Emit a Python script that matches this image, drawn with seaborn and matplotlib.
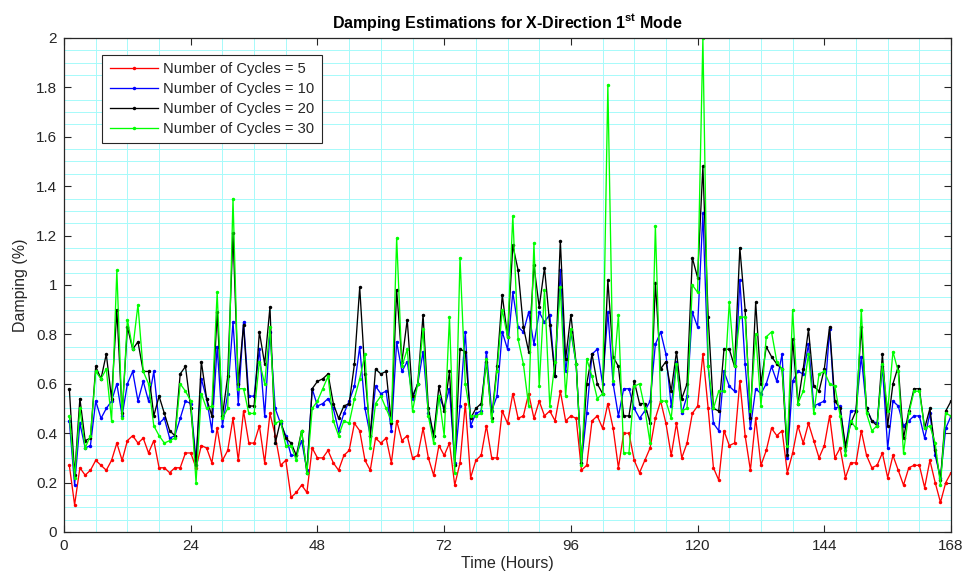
import numpy as np
import pandas as pd
import matplotlib
matplotlib.use("Agg")
import matplotlib.pyplot as plt
import seaborn as sns
from matplotlib.ticker import FixedLocator

hours = list(range(1, 169))

cycles_5 = [0.27,0.11,0.26,0.23,0.25,0.29,0.27,0.25,0.29,0.36,
            0.29,0.37,0.39,0.36,0.38,0.32,0.37,0.26,0.26,0.24,
            0.26,0.26,0.32,0.32,0.26,0.35,0.34,0.28,0.42,0.29,
            0.33,0.46,0.29,0.49,0.36,0.36,0.43,0.28,0.48,0.39,
            0.27,0.29,0.14,0.16,0.19,0.16,0.34,0.30,0.30,0.33,
            0.28,0.25,0.31,0.33,0.44,0.41,0.29,0.25,0.38,0.36,
            0.38,0.28,0.45,0.37,0.39,0.30,0.31,0.42,0.30,0.23,
            0.35,0.31,0.36,0.19,0.28,0.52,0.22,0.29,0.31,0.43,
            0.30,0.30,0.49,0.44,0.56,0.46,0.47,0.56,0.46,0.53,
            0.47,0.49,0.45,0.57,0.45,0.47,0.46,0.25,0.27,0.45,
            0.47,0.42,0.52,0.42,0.26,0.40,0.40,0.29,0.24,0.29,
            0.34,0.46,0.53,0.44,0.31,0.44,0.30,0.36,0.48,0.51,
            0.72,0.50,0.26,0.21,0.41,0.35,0.36,0.61,0.39,0.25,
            0.46,0.27,0.33,0.42,0.39,0.41,0.24,0.32,0.43,0.36,
            0.44,0.37,0.30,0.35,0.47,0.30,0.34,0.22,0.28,0.28,
            0.41,0.31,0.26,0.27,0.32,0.22,0.31,0.25,0.19,0.26,
            0.27,0.27,0.18,0.29,0.20,0.12,0.20,0.24]

cycles_10 = [0.45,0.19,0.44,0.34,0.35,0.53,0.46,0.50,0.53,0.60,
             0.47,0.60,0.65,0.53,0.61,0.53,0.65,0.44,0.46,0.38,
             0.39,0.46,0.53,0.52,0.29,0.62,0.54,0.41,0.75,0.43,
             0.56,0.85,0.52,0.85,0.55,0.55,0.74,0.47,0.81,0.50,
             0.44,0.39,0.31,0.31,0.37,0.25,0.58,0.51,0.52,0.54,
             0.50,0.41,0.48,0.53,0.59,0.75,0.50,0.39,0.59,0.56,
             0.57,0.41,0.77,0.65,0.69,0.54,0.60,0.73,0.48,0.39,
             0.55,0.50,0.58,0.28,0.51,0.81,0.43,0.48,0.49,0.73,
             0.49,0.55,0.81,0.74,0.97,0.83,0.81,0.89,0.76,0.89,
             0.85,0.88,0.63,1.06,0.65,0.81,0.68,0.28,0.48,0.72,
             0.74,0.60,0.89,0.60,0.47,0.58,0.58,0.50,0.46,0.49,
             0.53,0.76,0.81,0.72,0.51,0.69,0.48,0.55,0.89,0.83,
             1.29,0.67,0.44,0.41,0.65,0.59,0.57,1.02,0.68,0.42,
             0.58,0.56,0.60,0.67,0.61,0.72,0.30,0.61,0.65,0.64,
             0.76,0.51,0.52,0.53,0.82,0.50,0.51,0.33,0.49,0.49,
             0.71,0.50,0.45,0.44,0.67,0.34,0.53,0.51,0.43,0.45,
             0.47,0.47,0.38,0.48,0.31,0.22,0.42,0.47]

cycles_20 = [0.58,0.23,0.54,0.37,0.38,0.67,0.62,0.72,0.54,0.90,
             0.48,0.83,0.74,0.77,0.65,0.65,0.47,0.55,0.48,0.41,
             0.39,0.64,0.67,0.50,0.27,0.69,0.54,0.47,0.89,0.47,
             0.63,1.21,0.60,0.84,0.51,0.51,0.81,0.68,0.91,0.36,
             0.45,0.38,0.36,0.31,0.41,0.24,0.58,0.61,0.62,0.64,
             0.52,0.46,0.51,0.52,0.68,0.99,0.64,0.39,0.66,0.64,
             0.65,0.44,0.98,0.69,0.86,0.55,0.60,0.88,0.50,0.39,
             0.59,0.49,0.65,0.27,0.74,0.73,0.46,0.50,0.52,0.69,
             0.46,0.67,0.96,0.79,1.16,1.06,0.83,0.73,1.08,0.91,
             1.07,0.84,0.63,1.18,0.70,0.88,0.68,0.28,0.60,0.72,
             0.60,0.56,1.02,0.71,0.67,0.47,0.47,0.61,0.52,0.52,
             0.44,1.01,0.66,0.69,0.57,0.73,0.54,0.60,1.11,1.03,
             1.48,0.87,0.50,0.49,0.74,0.74,0.67,1.15,0.90,0.46,
             0.93,0.60,0.75,0.71,0.68,0.66,0.31,0.78,0.52,0.66,
             0.82,0.59,0.57,0.66,0.83,0.53,0.50,0.35,0.44,0.49,
             0.83,0.50,0.45,0.43,0.72,0.43,0.60,0.67,0.38,0.49,
             0.58,0.58,0.42,0.50,0.33,0.21,0.49,0.53]

cycles_30 = [0.47,0.22,0.50,0.34,0.39,0.65,0.62,0.66,0.45,1.06,
             0.46,0.86,0.74,0.92,0.65,0.60,0.43,0.39,0.36,0.37,
             0.38,0.60,0.57,0.53,0.20,0.56,0.50,0.51,0.97,0.46,
             0.50,1.35,0.58,0.58,0.48,0.48,0.69,0.60,0.83,0.44,
             0.45,0.35,0.35,0.29,0.41,0.24,0.50,0.53,0.58,0.63,
             0.45,0.39,0.45,0.44,0.54,0.62,0.72,0.34,0.52,0.55,
             0.50,0.45,1.19,0.67,0.74,0.49,0.60,0.82,0.47,0.36,
             0.55,0.39,0.87,0.24,1.11,0.60,0.47,0.47,0.48,0.70,
             0.45,0.65,0.90,0.79,1.28,0.78,0.68,0.51,1.17,0.59,
             0.98,0.51,0.69,0.99,0.55,0.82,0.68,0.27,0.70,0.63,
             0.54,0.56,1.81,0.61,0.88,0.32,0.32,0.59,0.60,0.50,
             0.36,1.24,0.53,0.53,0.46,0.68,0.49,0.50,1.00,0.97,
             2.00,0.67,0.50,0.57,0.57,0.93,0.67,0.87,0.87,0.49,
             0.80,0.51,0.79,0.81,0.69,0.66,0.35,0.90,0.52,0.57,
             0.72,0.48,0.64,0.65,0.60,0.59,0.47,0.31,0.45,0.42,
             0.90,0.48,0.41,0.43,0.68,0.49,0.73,0.65,0.32,0.48,
             0.57,0.57,0.42,0.43,0.36,0.19,0.48,0.47]

series_labels = ["Number of Cycles = 5", "Number of Cycles = 10",
                 "Number of Cycles = 20", "Number of Cycles = 30"]
series_colors = ["#FF0000", "#0000FF", "#000000", "#00FF00"]
x_ticks = [0, 24, 48, 72, 96, 120, 144, 168]
y_ticks = [0, 0.2, 0.4, 0.6, 0.8, 1.0, 1.2, 1.4, 1.6, 1.8, 2.0]
y_tick_labels = ["0", "0.2", "0.4", "0.6", "0.8", "1", "1.2", "1.4", "1.6", "1.8", "2"]

frames = []
for lab, vals in zip(series_labels, [cycles_5, cycles_10, cycles_20, cycles_30]):
    frames.append(pd.DataFrame({"Hour": hours, "Damping": vals, "Series": lab}))
df = pd.concat(frames, ignore_index=True)

plt.rcParams["font.family"] = ["Liberation Sans", "DejaVu Sans"]
plt.rcParams["mathtext.fontset"] = "custom"
plt.rcParams["mathtext.rm"] = "Liberation Sans"
plt.rcParams["mathtext.bf"] = "Liberation Sans:bold"

fig = plt.figure(figsize=(9.66, 5.85), dpi=100)
ax = fig.add_axes([0.0663, 0.0906, 0.9182, 0.8445])
ax.set_facecolor("white")

grid_col = "#A6FAFA"
for xv in np.arange(6, 168, 6):
    if xv % 24 != 0:
        ax.axvline(xv, color=grid_col, lw=0.7, zorder=0)
for yv in np.arange(0.05, 2.0, 0.05):
    if abs(yv / 0.2 - round(yv / 0.2)) > 1e-6:
        ax.axhline(yv, color=grid_col, lw=0.7, zorder=0)

for lab, col in zip(series_labels, series_colors):
    sub = df[df["Series"] == lab]
    sns.lineplot(data=sub, x="Hour", y="Damping", ax=ax, color=col, lw=0.95,
                 marker=".", markersize=5, markeredgewidth=0, label=lab,
                 estimator=None, sort=False)

ax.set_xlim(0, 168)
ax.set_ylim(0, 2)
ax.xaxis.set_major_locator(FixedLocator(x_ticks))
ax.yaxis.set_major_locator(FixedLocator(y_ticks))
ax.set_yticklabels(y_tick_labels)
ax.tick_params(direction="in", length=5, width=0.8, top=True, right=True,
               labelsize=11, colors="#262626", pad=5)
for sp in ax.spines.values():
    sp.set_color("#262626")
    sp.set_linewidth(0.9)

ax.set_xlabel("Time (Hours)", fontsize=11.5, color="#262626", labelpad=2)
ax.set_ylabel("Damping (%)", fontsize=11.5, color="#262626", labelpad=6)
ax.set_title(r"Damping Estimations for X-Direction 1$^{\mathbf{st}}$ Mode",
             fontsize=11.5, fontweight="bold", color="#000000", pad=7)

leg = ax.legend(loc="upper left", bbox_to_anchor=(0.043, 0.9656), fontsize=10.6,
                frameon=True, fancybox=False, framealpha=1, edgecolor="#262626",
                handlelength=3.3, handletextpad=0.35, borderpad=0.5,
                labelspacing=0.4, borderaxespad=0)
leg.get_frame().set_linewidth(0.8)
for t in leg.get_texts():
    t.set_color("#262626")

fig.savefig("out.png", dpi=100, facecolor="white")
